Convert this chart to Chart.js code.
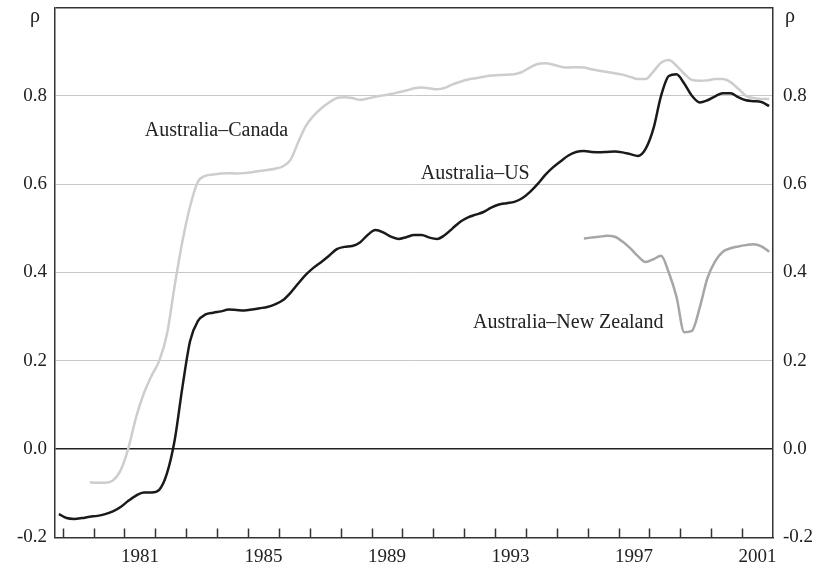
<!DOCTYPE html>
<html>
<head>
<meta charset="utf-8">
<script src="https://cdn.jsdelivr.net/npm/chart.js@4"></script>
<style>
  body { margin: 0; background: #fff; }
  #wrap { width: 820px; height: 564px; }
</style>
</head>
<body>
<div id="wrap"><canvas id="corrChart"></canvas></div>
<script>
// quarterly correlations, each series listed from its first quarter
const usStart = "1978Q4";
const usValues = [
  -0.147,
  -0.156, -0.158, -0.156, -0.153,
  -0.151, -0.147, -0.141, -0.131,
  -0.117, -0.105, -0.098, -0.098,
  -0.092, -0.055, 0.020, 0.140,
  0.245, 0.290, 0.305, 0.309,
  0.312, 0.316, 0.315, 0.314,
  0.316, 0.319, 0.322, 0.328,
  0.337, 0.354, 0.375, 0.395,
  0.411, 0.424, 0.438, 0.453,
  0.458, 0.460, 0.468, 0.485,
  0.496, 0.491, 0.481, 0.476,
  0.480, 0.485, 0.485, 0.479,
  0.476, 0.485, 0.500, 0.515,
  0.525, 0.531, 0.537, 0.547,
  0.554, 0.557, 0.560, 0.568,
  0.582, 0.600, 0.621, 0.638,
  0.652, 0.665, 0.673, 0.675,
  0.673, 0.672, 0.673, 0.674,
  0.672, 0.668, 0.664, 0.680,
  0.725, 0.800, 0.845, 0.849,
  0.828, 0.800, 0.785, 0.790,
  0.799, 0.806, 0.806, 0.797,
  0.790, 0.788, 0.786, 0.777
];

const canadaStart = "1979Q4";
const canadaValues = [
  -0.075,
  -0.076, -0.076, -0.071, -0.048,
  0.002, 0.072, 0.126, 0.166,
  0.200, 0.260, 0.370, 0.470,
  0.550, 0.605, 0.619, 0.622,
  0.624, 0.625, 0.624, 0.625,
  0.627, 0.630, 0.632, 0.635,
  0.640, 0.655, 0.695, 0.732,
  0.755, 0.772, 0.785, 0.795,
  0.797, 0.795, 0.791, 0.794,
  0.798, 0.801, 0.804, 0.808,
  0.812, 0.817, 0.819, 0.817,
  0.815, 0.818, 0.826, 0.832,
  0.837, 0.840, 0.843, 0.846,
  0.847, 0.848, 0.849, 0.854,
  0.864, 0.872, 0.874, 0.871,
  0.866, 0.864, 0.865, 0.864,
  0.860, 0.857, 0.854, 0.851,
  0.848, 0.843, 0.838, 0.838,
  0.855, 0.875, 0.881, 0.868,
  0.850, 0.836, 0.834, 0.835,
  0.838, 0.838, 0.831, 0.816,
  0.800, 0.795, 0.793, 0.793
];

const nzStart = "1995Q4";
const nzValues = [
  0.477,
  0.479, 0.481, 0.483, 0.481,
  0.470, 0.455, 0.437, 0.424,
  0.430, 0.438, 0.400, 0.345,
  0.265, 0.268, 0.320, 0.387,
  0.425, 0.447, 0.455, 0.459,
  0.462, 0.464, 0.459, 0.447
];

const yearLabels = [1981, 1985, 1989, 1993, 1997, 2001];
const yTicks = [-0.2, 0.0, 0.2, 0.4, 0.6, 0.8, 1.0];

const seriesNames = ["Australia\u2013US", "Australia\u2013Canada", "Australia\u2013New Zealand"];
// where each name sits: [year, correlation] of the text's baseline centre
const namePlaces = [[1992.36, 0.611], [1983.98, 0.708], [1995.37, 0.274]];

// quarter categories 1978Q4 .. 2001Q4
const quarters = ["1978Q4"];
for (let y = 1979; y <= 2001; y++) {
  for (let q = 1; q <= 4; q++) quarters.push(y + "Q" + q);
}

function pad(start, values) {
  const n = quarters.indexOf(start);
  return Array(n).fill(null).concat(values);
}

// fractional year -> category index (Q4 1978 centre is 1978.875)
function yearToIndex(yr) {
  return (yr - 1978.875) * 4;
}

const serif = "'Liberation Serif', 'Times New Roman', serif";
Chart.defaults.font.family = serif;
Chart.defaults.font.size = 19;
Chart.defaults.color = "#222";

const overlay = {
  id: "overlay",
  afterDraw(chart) {
    const { ctx, chartArea, scales } = chart;
    const x = scales.x, y = scales.y;
    ctx.save();

    // year tick marks pointing up into the plot
    const band = x.getPixelForValue(1) - x.getPixelForValue(0);
    ctx.strokeStyle = "#333";
    ctx.lineWidth = 1.5;
    quarters.forEach((q, i) => {
      if (!q.endsWith("Q1")) return;
      const px = Math.round(x.getPixelForValue(i) - band / 2) + 0.5;
      ctx.beginPath();
      ctx.moveTo(px, chartArea.bottom);
      ctx.lineTo(px, chartArea.bottom - 9);
      ctx.stroke();
    });

    // rho at the top of both axes
    ctx.fillStyle = "#222";
    ctx.font = "20px " + serif;
    ctx.textAlign = "center";
    ctx.textBaseline = "alphabetic";
    const rhoY = y.getPixelForValue(1.0) + 14.5;
    ctx.fillText("\u03c1", chartArea.left - 20, rhoY);
    ctx.fillText("\u03c1", chartArea.right + 17, rhoY);

    // series names
    ctx.font = "20px " + serif;
    seriesNames.forEach((name, i) => {
      const [yr, v] = namePlaces[i];
      ctx.fillText(name, x.getPixelForValue(yearToIndex(yr)), y.getPixelForValue(v));
    });
    ctx.restore();
  }
};

function gridColor(ctx) {
  const v = ctx.tick.value;
  if (Math.abs(v) < 1e-9) return "#222";
  if (v > 0.99) return "#333";
  if (v < -0.19) return "rgba(0,0,0,0)";
  return "#c8c8c8";
}

function gridWidth(ctx) {
  const v = ctx.tick.value;
  if (Math.abs(v) < 1e-9 || v > 0.99) return 1.5;
  return 1;
}

function noPad(s) {
  s.paddingTop = 0;
  s.paddingBottom = 0;
  s.paddingLeft = 0;
  s.paddingRight = 0;
}

const lineStyle = {
  pointRadius: 0,
  borderWidth: 2.5,
  fill: false,
  cubicInterpolationMode: "monotone"
};

new Chart(document.getElementById("corrChart"), {
  type: "line",
  data: {
    labels: quarters,
    datasets: [
      { ...lineStyle, label: seriesNames[1], data: pad(canadaStart, canadaValues), borderColor: "#cdcdcd" },
      { ...lineStyle, label: seriesNames[2], data: pad(nzStart, nzValues), borderColor: "#a6a6a6" },
      { ...lineStyle, label: seriesNames[0], data: pad(usStart, usValues), borderColor: "#1a1a1a" }
    ]
  },
  options: {
    responsive: true,
    maintainAspectRatio: false,
    animation: false,
    layout: { autoPadding: false, padding: { top: 7.5 } },
    plugins: { legend: { display: false }, tooltip: { enabled: false } },
    scales: {
      x: {
        type: "category",
        offset: true,
        grid: { display: false, drawTicks: false },
        border: { display: true, color: "#333", width: 1.5 },
        ticks: {
          autoSkip: false,
          maxRotation: 0,
          padding: 8,
          labelOffset: 3.86,
          callback: (val, i) => {
            const q = quarters[i];
            const yr = +q.slice(0, 4);
            return q.endsWith("Q2") && yearLabels.includes(yr) ? String(yr) : "";
          }
        },
        afterFit: s => { s.height = 26.5; noPad(s); }
      },
      y: {
        position: "left",
        min: -0.2,
        max: 1.0,
        afterBuildTicks: s => { s.ticks = yTicks.map(v => ({ value: v })); },
        ticks: { padding: 8, callback: v => (v > 0.99 ? "" : v.toFixed(1)) },
        grid: { drawTicks: false, color: gridColor, lineWidth: gridWidth },
        border: { color: "#333", width: 1.5 },
        afterFit: s => { s.width = 55; noPad(s); }
      },
      y2: {
        position: "right",
        min: -0.2,
        max: 1.0,
        afterBuildTicks: s => { s.ticks = yTicks.map(v => ({ value: v })); },
        ticks: { padding: 10, callback: v => (v > 0.99 ? "" : v.toFixed(1)) },
        grid: { display: false, drawTicks: false },
        border: { color: "#333", width: 1.5 },
        afterFit: s => { s.width = 47; noPad(s); }
      }
    }
  },
  plugins: [overlay]
});
</script>
</body>
</html>
